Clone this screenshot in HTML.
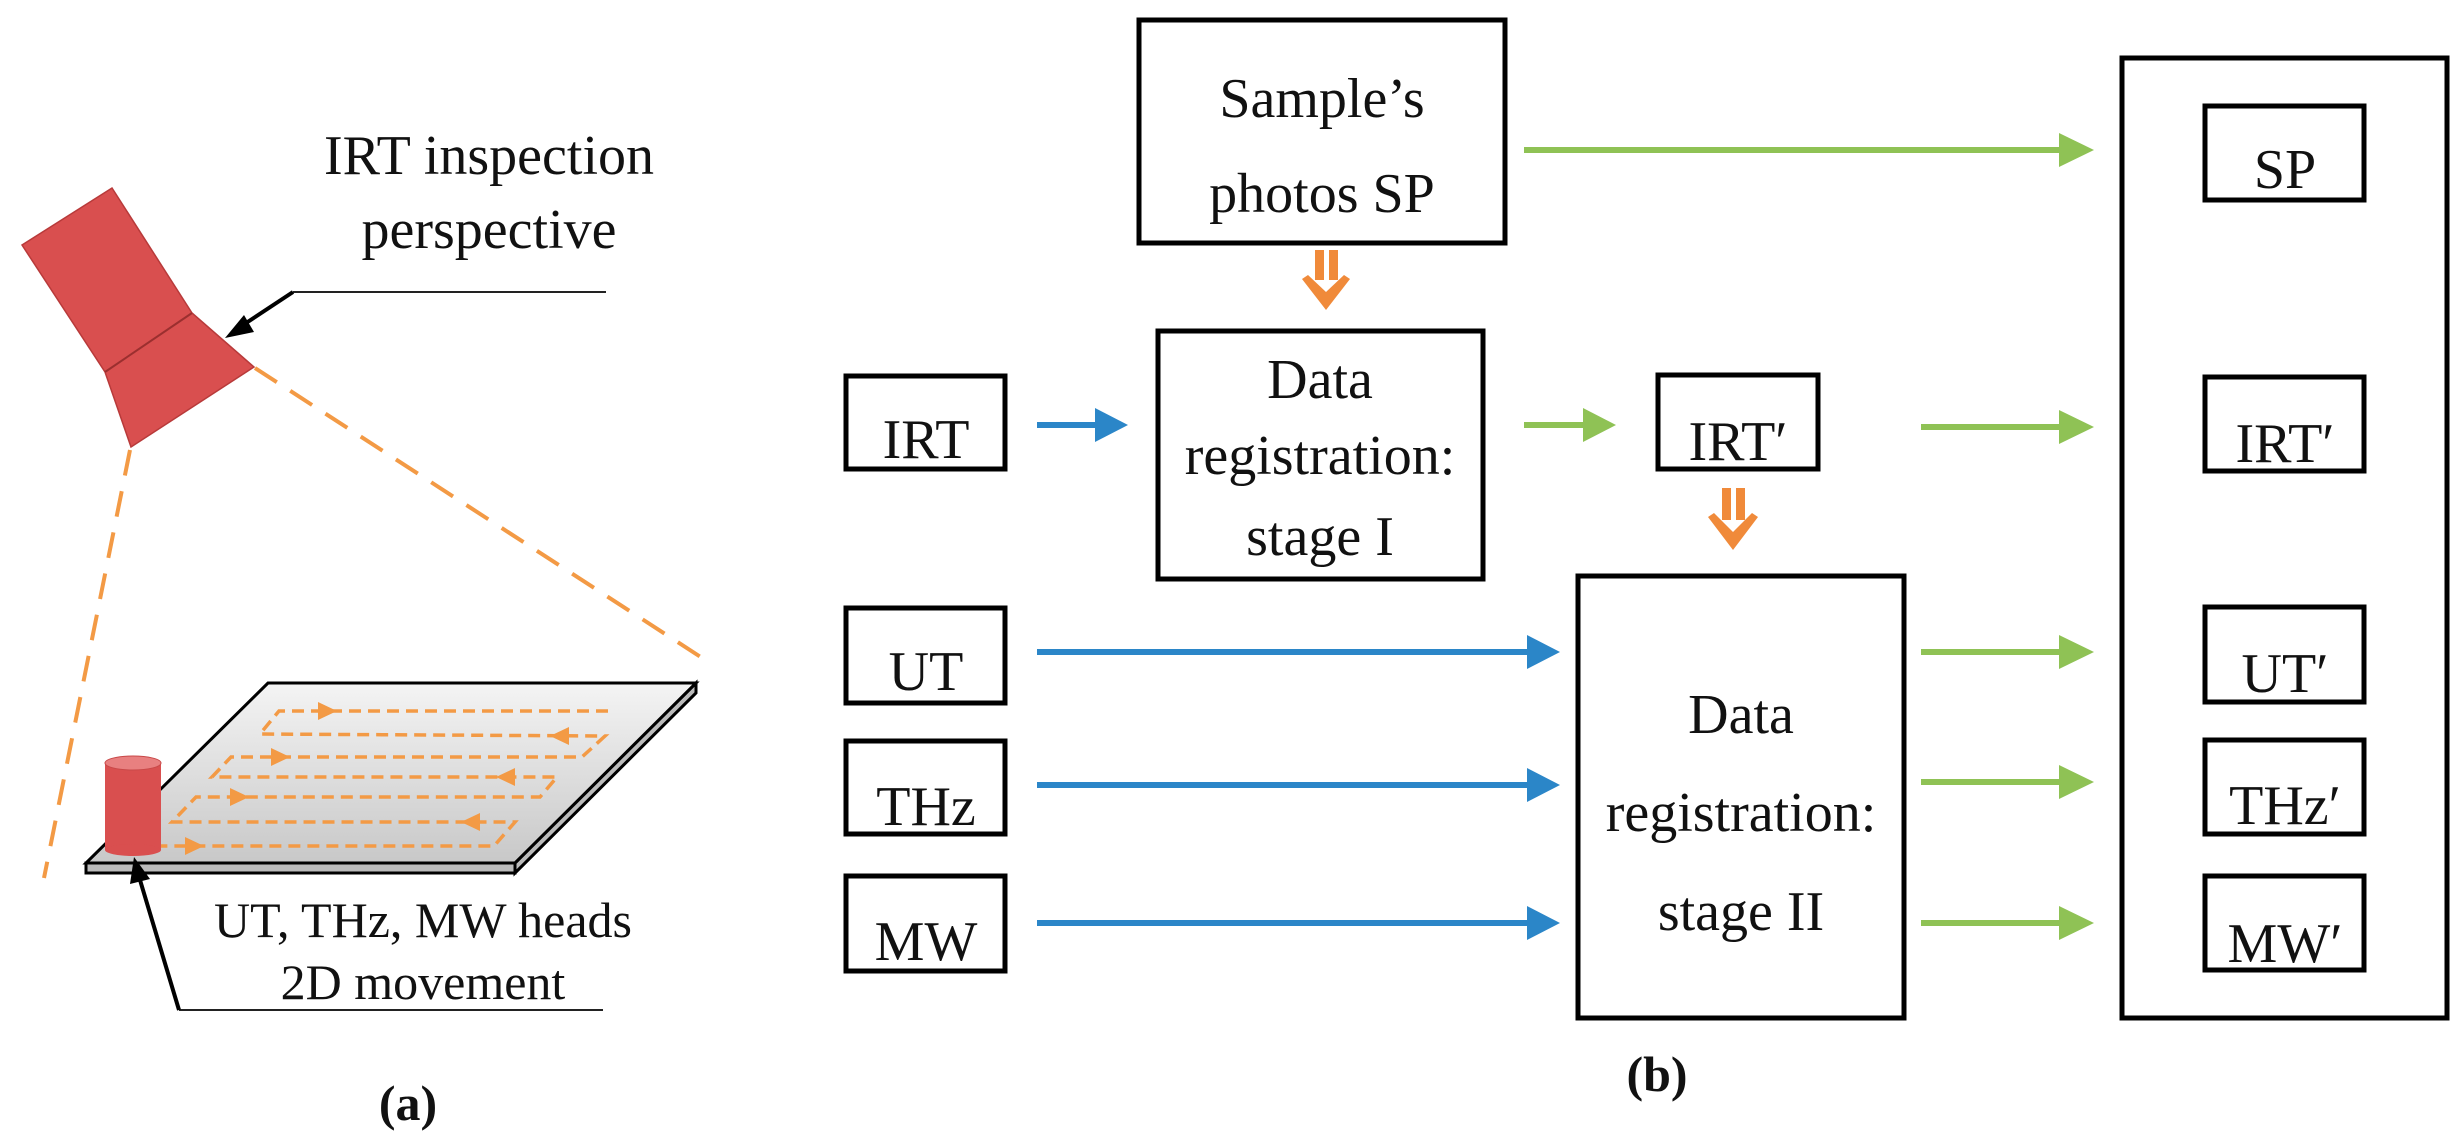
<!DOCTYPE html>
<html><head><meta charset="utf-8"><style>
html,body{margin:0;padding:0;background:#fff;}
svg{display:block;}
text{font-family:"Liberation Serif",serif;fill:#111;}
</style></head><body>
<svg width="2464" height="1142" viewBox="0 0 2464 1142" xmlns="http://www.w3.org/2000/svg">
<defs>
<linearGradient id="pl" x1="0" y1="0" x2="0" y2="1">
<stop offset="0" stop-color="#f4f4f4"/><stop offset="1" stop-color="#c8c8c8"/>
</linearGradient>
</defs>

<!-- (a) -->
<line x1="255" y1="368" x2="713" y2="665" stroke="#f39a45" stroke-width="4" stroke-dasharray="26,16"/>
<line x1="130" y1="450" x2="44" y2="878" stroke="#f39a45" stroke-width="4" stroke-dasharray="26,16"/>
<polygon points="22,245 112,188 192,313 254,367 131,447 105,372" fill="#d94f4f" stroke="#b83a3a" stroke-width="1.5"/>
<line x1="105" y1="372" x2="192" y2="313" stroke="#9b2f2f" stroke-width="2"/>
<line x1="293" y1="292" x2="606" y2="292" stroke="#222" stroke-width="2"/>
<line x1="293" y1="292" x2="240" y2="327" stroke="#000" stroke-width="4"/>
<polygon points="225,338 244,315 254,332" fill="#000"/>
<text x="489" y="174" font-size="56" text-anchor="middle">IRT inspection</text>
<text x="489" y="248" font-size="56" text-anchor="middle">perspective</text>

<!-- plate -->
<polygon points="86,863 515,863 515,873 86,873" fill="#bbb" stroke="#000" stroke-width="3"/>
<polygon points="515,863 696,683 696,693 515,873" fill="#bbb" stroke="#000" stroke-width="3"/>
<polygon points="268,683 696,683 515,863 86,863" fill="url(#pl)" stroke="#000" stroke-width="3"/>
<g stroke="#f39a45" stroke-width="3.5" fill="none" stroke-dasharray="12,7">
<polyline points="608,711 279,711 260,734 605,736 582,757 231,757 212,777 557,777 540,797 196,797 172,822 515,822 494,846 149,846"/>
</g>
<g fill="#f39a45">
<polygon points="337,711 318,702 318,720"/>
<polygon points="550,736 569,727 569,745"/>
<polygon points="290,757 271,748 271,766"/>
<polygon points="496,777 515,768 515,786"/>
<polygon points="249,797 230,788 230,806"/>
<polygon points="461,822 480,813 480,831"/>
<polygon points="204,846 185,837 185,855"/>
</g>
<rect x="105" y="763" width="56" height="87" fill="#d94f4f"/>
<ellipse cx="133" cy="850" rx="28" ry="6" fill="#d94f4f"/>
<ellipse cx="133" cy="763" rx="28" ry="7" fill="#e88080" stroke="#c84848" stroke-width="1"/>
<line x1="179" y1="1010" x2="603" y2="1010" stroke="#222" stroke-width="2"/>
<line x1="179" y1="1010" x2="140" y2="880" stroke="#000" stroke-width="4"/>
<polygon points="134,857 130,884 150,879" fill="#000"/>
<text x="423" y="937" font-size="50" text-anchor="middle">UT, THz, MW heads</text>
<text x="423" y="999" font-size="50" text-anchor="middle">2D movement</text>
<text x="408" y="1120" font-size="50" font-weight="bold" text-anchor="middle">(a)</text>

<!-- (b) boxes -->
<g fill="none" stroke="#000" stroke-width="5">
<rect x="1139" y="20" width="366" height="223"/>
<rect x="1158" y="331" width="325" height="248"/>
<rect x="846" y="376" width="159" height="93"/>
<rect x="846" y="608" width="159" height="95"/>
<rect x="846" y="741" width="159" height="93"/>
<rect x="846" y="876" width="159" height="95"/>
<rect x="1658" y="375" width="160" height="94"/>
<rect x="1578" y="576" width="326" height="442"/>
<rect x="2122" y="58" width="325" height="960"/>
<rect x="2205" y="106" width="159" height="94"/>
<rect x="2205" y="377" width="159" height="94"/>
<rect x="2205" y="607" width="159" height="95"/>
<rect x="2205" y="740" width="159" height="94"/>
<rect x="2205" y="876" width="159" height="94"/>
</g>
<g font-size="56" text-anchor="middle">
<text x="1322" y="117">Sample’s</text>
<text x="1322" y="212">photos SP</text>
<text x="1320" y="398">Data</text>
<text x="1320" y="474">registration:</text>
<text x="1320" y="555">stage I</text>
<text x="1741" y="733">Data</text>
<text x="1741" y="831">registration:</text>
<text x="1741" y="930">stage II</text>
<text x="926" y="458">IRT</text>
<text x="926" y="690">UT</text>
<text x="926" y="825">THz</text>
<text x="926" y="960">MW</text>
<text x="1738" y="460">IRT′</text>
<text x="2285" y="188">SP</text>
<text x="2285" y="462">IRT′</text>
<text x="2285" y="692">UT′</text>
<text x="2285" y="824">THz′</text>
<text x="2285" y="962">MW′</text>
</g>
<text x="1657" y="1091" font-size="50" font-weight="bold" text-anchor="middle">(b)</text>

<!-- blue arrows -->
<g stroke="#2b86c8" stroke-width="6">
<line x1="1037" y1="425" x2="1100" y2="425"/>
<line x1="1037" y1="652" x2="1530" y2="652"/>
<line x1="1037" y1="785" x2="1530" y2="785"/>
<line x1="1037" y1="923" x2="1530" y2="923"/>
</g>
<g fill="#2b86c8">
<polygon points="1128,425 1095,408 1095,442"/>
<polygon points="1560,652 1527,635 1527,669"/>
<polygon points="1560,785 1527,768 1527,802"/>
<polygon points="1560,923 1527,906 1527,940"/>
</g>
<!-- green arrows -->
<g stroke="#8fc255" stroke-width="6">
<line x1="1524" y1="150" x2="2062" y2="150"/>
<line x1="1524" y1="425" x2="1585" y2="425"/>
<line x1="1921" y1="427" x2="2062" y2="427"/>
<line x1="1921" y1="652" x2="2062" y2="652"/>
<line x1="1921" y1="782" x2="2062" y2="782"/>
<line x1="1921" y1="923" x2="2062" y2="923"/>
</g>
<g fill="#8fc255">
<polygon points="2094,150 2059,133 2059,167"/>
<polygon points="1616,425 1583,408 1583,442"/>
<polygon points="2094,427 2059,410 2059,444"/>
<polygon points="2094,652 2059,635 2059,669"/>
<polygon points="2094,782 2059,765 2059,799"/>
<polygon points="2094,923 2059,906 2059,940"/>
</g>
<!-- orange hollow arrows -->
<g fill="#f08a3a">
<rect x="1315" y="250" width="9" height="30"/><rect x="1329" y="250" width="9" height="30"/>
<polygon points="1302,279 1308,275 1326,292 1344,275 1350,279 1326,310"/>
<rect x="1722" y="488" width="9" height="32"/><rect x="1736" y="488" width="9" height="32"/>
<polygon points="1708,517 1714,513 1733,532 1752,513 1758,517 1733,550"/>
</g>
</svg>
</body></html>
